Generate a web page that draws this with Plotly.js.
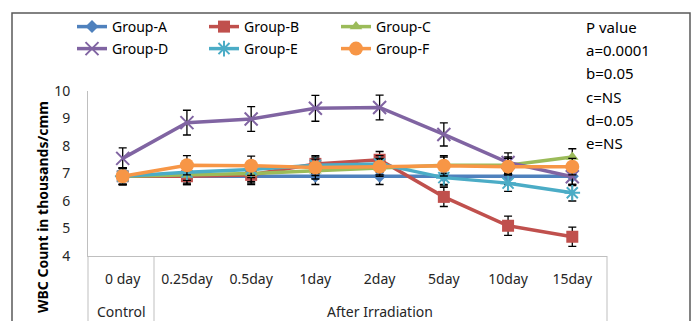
<!DOCTYPE html>
<html>
<head>
<meta charset="utf-8">
<script src="https://cdn.plot.ly/plotly-3.0.1.min.js"></script>
<style>html,body{margin:0;padding:0;background:#fff;}#chart{width:693px;height:321px;}</style>
</head>
<body>
<div id="chart"></div>
<script>
const categories = ["0 day","0.25day","0.5day","1day","2day","5day","10day","15day"];
const groupLabels = ["Control","After Irradiation"];
const seriesNames = ["Group-A","Group-B","Group-C","Group-D","Group-E","Group-F"];
const groupA = [6.9, 6.9, 6.9, 6.9, 6.9, 6.9, 6.9, 6.9];
const groupB = [6.9, 6.9, 6.95, 7.35, 7.5, 6.15, 5.1, 4.7];
const groupC = [6.9, 6.95, 7.0, 7.1, 7.2, 7.3, 7.3, 7.6];
const groupD = [7.55, 8.85, 8.98, 9.37, 9.4, 8.42, 7.4, 6.88];
const groupE = [6.9, 7.05, 7.15, 7.3, 7.35, 6.85, 6.65, 6.3];
const groupF = [6.9, 7.3, 7.28, 7.22, 7.25, 7.28, 7.25, 7.25];
const errA = [0.3, 0.3, 0.3, 0.3, 0.3, 0.3, 0.3, 0.3];
const errB = [0.3, 0.3, 0.3, 0.3, 0.3, 0.35, 0.35, 0.35];
const errC = [0.3, 0.3, 0.3, 0.3, 0.3, 0.3, 0.3, 0.3];
const errD = [0.38, 0.45, 0.45, 0.47, 0.45, 0.42, 0.35, 0.32];
const errE = [0.3, 0.3, 0.3, 0.3, 0.3, 0.3, 0.3, 0.3];
const errF = [0.3, 0.35, 0.35, 0.3, 0.3, 0.37, 0.3, 0.3];
const pValueLines = ["P value","a=0.0001","b=0.05","c=NS","d=0.05","e=NS"];
const yTitle = "WBC Count in thousands/cmm";

const values = [groupA, groupB, groupC, groupD, groupE, groupF];
const errors = [errA, errB, errC, errD, errE, errF];
const colors = ["#4F81BD","#C0504D","#9BBB59","#8064A2","#4BACC6","#F79646"];
const symbols = ["diamond","square","triangle-up","x-thin-open","asterisk-open","circle"];
const sizes = [10, 12, 11, 13, 13, 14];

const traces = values.map((v, i) => ({
  type: "scatter", mode: "lines+markers", name: seriesNames[i],
  legend: i < 3 ? "legend" : "legend2",
  x: categories, y: v,
  line: {color: colors[i], width: 3.5},
  marker: {symbol: symbols[i], size: sizes[i], color: colors[i],
           line: {color: colors[i], width: (i===3||i===4) ? 2 : 0}},
  error_y: {type: "data", array: errors[i], visible: true, color: "#000", thickness: 1.3, width: 4}
}));

const L = 88, R = 607, T = 91, B = 256, W = 693, H = 321;
const pw = R - L, ph = B - T;
const px = x => (x - L) / pw;
const py = y => (B - y) / ph;
const FONT = "Noto Sans, Open Sans, sans-serif";

const shapes = [
  {type:"rect", xref:"paper", yref:"paper", x0:px(12), x1:px(690), y0:py(340), y1:py(13), line:{color:"#595959", width:1.5}},
  {type:"line", xref:"paper", yref:"paper", x0:px(L), x1:px(L), y0:0, y1:py(330), line:{color:"#BFBFBF", width:1}},
  {type:"line", xref:"paper", yref:"paper", x0:px(154), x1:px(154), y0:0, y1:py(330), line:{color:"#BFBFBF", width:1}},
  {type:"line", xref:"paper", yref:"paper", x0:px(R), x1:px(R), y0:0, y1:py(330), line:{color:"#BFBFBF", width:1}}
];

const annotations = [
  {xref:"paper", yref:"paper", x:px(121), y:py(311), xanchor:"center", yanchor:"middle", text:groupLabels[0], showarrow:false, font:{size:14, color:"#262626"}},
  {xref:"paper", yref:"paper", x:px(380), y:py(311), xanchor:"center", yanchor:"middle", text:groupLabels[1], showarrow:false, font:{size:14, color:"#262626"}},
  {xref:"paper", yref:"paper", x:px(42), y:py(207), xanchor:"center", yanchor:"middle", textangle:-90, text:"<b>"+yTitle+"</b>", showarrow:false, font:{size:14, color:"#000"}}
].concat(pValueLines.map((t, i) => ({
  xref:"paper", yref:"paper", x:px(584), y:py(27 + i*23.2), xanchor:"left", yanchor:"middle", text:t, showarrow:false,
  font:{size:15, color:"#000"}
})));

const legendBase = {orientation: "h", xanchor: "left", yanchor: "top",
  entrywidth: 87, entrywidthmode: "pixels", traceorder: "normal",
  font: {size: 14, color: "#000"}, bgcolor: "rgba(0,0,0,0)"};

const layout = {
  width: W, height: H,
  margin: {l: L, r: W - R, t: T, b: H - B, pad: 0, autoexpand: false},
  paper_bgcolor: "#fff", plot_bgcolor: "#fff",
  font: {family: FONT, size: 14, color: "#262626"},
  showlegend: true,
  legend: Object.assign({}, legendBase, {x: px(72), y: py(11)}),
  legend2: Object.assign({}, legendBase, {x: px(72), y: py(33)}),
  xaxis: {type: "category", categoryarray: categories, showgrid: false, zeroline: false,
          showline: true, linecolor: "#BFBFBF", linewidth: 1, ticks: "", tickfont: {size: 14, color: "#262626"},
          ticklabelstandoff: 10, fixedrange: true},
  yaxis: {range: [4, 10], dtick: 1, showgrid: false, zeroline: false, showline: true,
          linecolor: "#BFBFBF", linewidth: 1, ticks: "", tickfont: {size: 14, color: "#262626"},
          ticklabelstandoff: 14, fixedrange: true},
  shapes: shapes, annotations: annotations
};

Plotly.newPlot("chart", traces, layout, {displayModeBar: false, staticPlot: true});
</script>
</body>
</html>
